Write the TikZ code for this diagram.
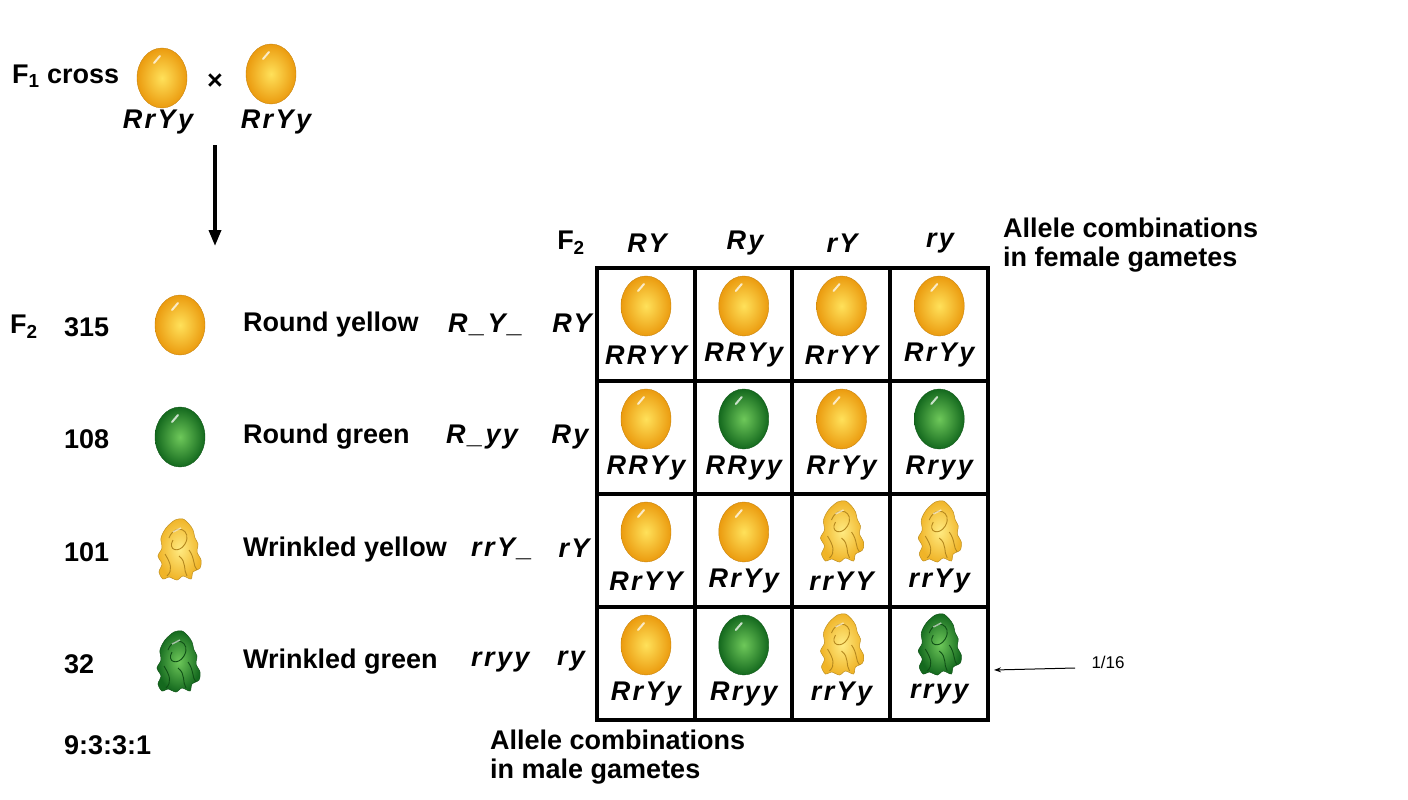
\documentclass[tikz,border=0pt]{standalone}
\usepackage{fontspec}
\setmainfont{Liberation Sans}
\usetikzlibrary{arrows.meta}
\definecolor{yin}{RGB}{255,225,90}
\definecolor{yout}{RGB}{235,155,15}
\definecolor{gin}{RGB}{110,200,90}
\definecolor{gout}{RGB}{20,105,30}
\definecolor{win}{RGB}{255,235,130}
\definecolor{wout}{RGB}{240,180,40}
\tikzset{
  pics/rpea/.style 2 args={code={
    \shade[shading=radial, inner color=#1, outer color=#2, draw=#2!85!black, line width=0.4pt] (0,0) ellipse[x radius=25, y radius=30];
    \draw[white, opacity=0.75, line width=2pt, line cap=round] (-8,-15) -- (-2,-22);
  }},
  pics/wpea/.style 2 args={code={
    \shade[shading=radial, inner color=#1, outer color=#2, draw=#2!80!black, line width=0.5pt] plot[smooth cycle] coordinates
      {(-4,-30) (4,-31) (10,-26) (14,-20) (16,-12) (19,-6) (18,2) (22,10) (21,18) (14,22) (12,29) (4,26) (-2,30) (-10,27) (-16,29) (-20,22) (-17,14) (-21,6) (-17,-2) (-18,-12) (-13,-22)};
    \draw[#2!75!black, line width=0.9pt] (-10,-12) .. controls (-4,-28) and (14,-20) .. (6,-6) .. controls (0,4) and (-12,0) .. (-6,-10);
    \draw[#2!75!black, line width=0.9pt] (-14,4) .. controls (-8,14) and (-6,20) .. (-12,26);
    \draw[#2!75!black, line width=0.9pt] (0,6) .. controls (8,12) and (4,20) .. (8,26);
    \draw[#2!75!black, line width=0.9pt] (10,0) .. controls (16,8) and (14,16) .. (18,20);
    \draw[white, opacity=0.6, line width=1.5pt] (-6,-18) -- (2,-22);
  }},
  lbl/.style={font=\bfseries\fontsize{27}{27}\selectfont, inner sep=0},
  geno/.style={font=\bfseries\itshape\fontsize{27}{27}\selectfont\addfontfeature{LetterSpace=9}, inner sep=0},
  grid/.style={line width=3.5pt}
}
\begin{document}
\begin{tikzpicture}[x=1pt,y=-1pt]
\useasboundingbox[fill=white] (0,0) rectangle (1408,800);
% F1 cross
\node[lbl, anchor=west] (f1) at (12,76) {F\textsubscript{1} cross};
\pic at (162,78) {rpea={yin}{yout}};
\node[lbl] (x) at (215,82) {×};
\pic at (271,74) {rpea={yin}{yout}};
\node[geno] (g1) at (158,122) {RrYy};
\node[geno] (g2) at (276,122) {RrYy};
\coordinate (a1) at (215,145);
\coordinate (a2) at (215,246);
\draw[line width=3.5pt, -{Triangle[length=16pt,width=12pt]}] (a1) -- (a2);
% F2 list
\node[lbl, anchor=west] (f2) at (10,327) {F\textsubscript{2}};
\foreach \y/\n/\t [count=\i] in {325/315/Round yellow, 437/108/Round green, 550/101/Wrinkled yellow, 662/32/Wrinkled green}{
  \node[lbl, anchor=west] (n\i) at (64,\y+2) {\n};
  \node[lbl, anchor=west] (t\i) at (243,\y) {\t};
}
\pic at (180,325) {rpea={yin}{yout}};
\pic at (180,437) {rpea={gin}{gout}};
\pic at (179,550) {wpea={win}{wout}};
\pic at (178,662) {wpea={gin}{gout}};
\node[geno, anchor=west] (gg1) at (448,325) {R\_Y\_};
\node[geno, anchor=west] (gg2) at (446,437) {R\_yy};
\node[geno, anchor=west] (gg3) at (471,549) {rrY\_};
\node[geno, anchor=west] (gg4) at (471,662) {rryy};
\node[geno] (hh1) at (572,323) {RY};
\node[geno] (hh2) at (570,437) {Ry};
\node[geno] (hh3) at (574,548) {rY};
\node[geno] (hh4) at (571,661) {ry};
\node[lbl, anchor=west] (nr) at (64,745) {9:3:3:1};
% Punnett header
\node[lbl] (F2b) at (571,243) {F\textsubscript{2}};
\node[geno] (c1) at (647,243) {RY};
\node[geno] (c2) at (745,243) {Ry};
\node[geno] (c3) at (842,243) {rY};
\node[geno] (c4) at (940,243) {ry};
\node[lbl, anchor=north west, align=left, font=\bfseries\fontsize{27}{29}\selectfont] (fem) at (1003,218) {Allele combinations\\in female gametes};
\node[lbl, anchor=north west, align=left, font=\bfseries\fontsize{27}{29}\selectfont] (mal) at (490,730) {Allele combinations\\in male gametes};
% grid
\draw[grid] (597,268) rectangle (988,720);
\foreach \x in {695,792,890} \draw[grid] (\x,268) -- (\x,720);
\foreach \y in {381,494,607} \draw[grid] (597,\y) -- (988,\y);
% cells
\foreach \r/\row in {1/{RRYY/r/yin/yout,RRYy/r/yin/yout,RrYY/r/yin/yout,RrYy/r/yin/yout},
                     2/{RRYy/r/yin/yout,RRyy/r/gin/gout,RrYy/r/yin/yout,Rryy/r/gin/gout},
                     3/{RrYY/r/yin/yout,RrYy/r/yin/yout,rrYY/w/win/wout,rrYy/w/win/wout},
                     4/{RrYy/r/yin/yout,Rryy/r/gin/gout,rrYy/w/win/wout,rryy/w/gin/gout}}{
  \foreach \gt/\sh/\ca/\cb [count=\c] in \row {
    \pgfmathsetmacro{\ty}{268+(\r-1)*113}
    \pgfmathsetmacro{\xx}{597+(\c-1)*97.75+49}
    \pic at (\xx,\ty+38) {\sh pea={\ca}{\cb}};
    \node[geno] (cell\r\c) at (\xx,\ty+87) {\gt};
  }
}
% 1/16
\node[font=\fontsize{17}{17}\selectfont, anchor=west] (frac) at (1088,662) {1/16};
\coordinate (fa) at (1075,668);
\coordinate (fb) at (994,670);
\draw[line width=1pt, -{Stealth[length=7pt,width=5pt]}] (fa) -- (fb);
\end{tikzpicture}
\end{document}
